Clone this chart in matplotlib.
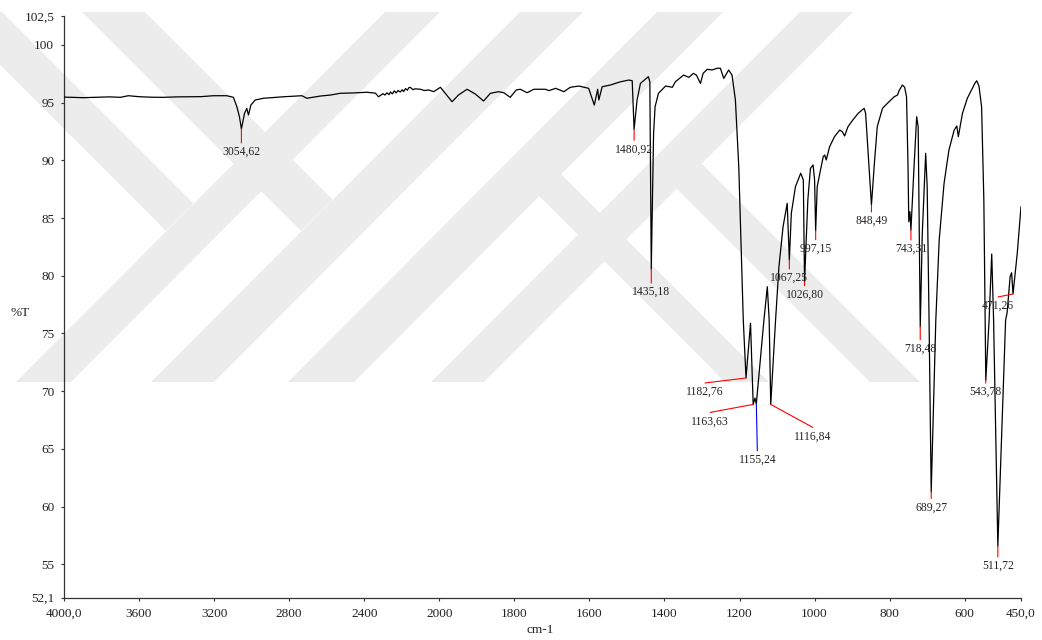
import matplotlib.pyplot as plt
import numpy as np
from matplotlib.patches import Polygon

# FT-IR spectrum, %T against wavenumber (cm-1)
WAVENUMBER = [
    4000, 3897, 3820, 3755, 3700, 3657, 3595, 3530, 3470, 3400, 3346, 3270, 3204, 3132,
    3097, 3079, 3065, 3054.62, 3038, 3026, 3017, 3004, 2981, 2937, 2880, 2830, 2732,
    2706, 2635, 2580, 2528, 2460, 2386, 2340, 2324, 2300, 2290, 2279, 2268, 2260, 2250,
    2240, 2230, 2220, 2208, 2198, 2190, 2180, 2170, 2162, 2155, 2140, 2130, 2101, 2080,
    2057, 2030, 1997, 1984, 1966, 1949, 1926, 1904, 1882,
    1864, 1842, 1828, 1811, 1795, 1784, 1766, 1748, 1717, 1708, 1690, 1668, 1651, 1628,
    1602, 1587, 1578, 1575, 1566, 1544, 1517, 1495, 1486, 1480.92, 1473, 1464, 1443,
    1439, 1435.18, 1429, 1425, 1416, 1397, 1379, 1371, 1349, 1335, 1323, 1315, 1304,
    1297, 1286, 1273, 1260, 1251, 1242, 1229, 1220, 1211, 1202, 1190, 1182.76, 1170.7,
    1163.63, 1159, 1155.24, 1135, 1126, 1121, 1116.84, 1104, 1095, 1084, 1073, 1067.25,
    1062, 1051, 1037, 1030, 1026.80, 1018, 1011, 1004, 1000, 997.15, 993, 986, 977, 973,
    969, 960, 947, 933, 926, 920, 911, 898, 884, 868, 864, 855, 848.49, 840, 833, 819,
    806, 788, 779, 775, 766, 760, 755, 751, 749, 746, 743.31, 735, 728, 724, 718.48, 713,
    704, 700, 695, 689.27, 677, 668, 655, 642, 628, 621, 617, 606, 593, 582, 577, 573,
    568, 562, 555, 549, 543.78, 535, 528, 523, 511.72, 491, 487, 479, 475, 471.26, 460,
    450,
]
TRANSMITTANCE = [
    95.48, 95.43, 95.47, 95.50, 95.46, 95.60, 95.51, 95.47, 95.46, 95.50, 95.51, 95.52,
    95.60, 95.60, 95.46, 94.65, 93.78, 92.72, 94.07, 94.50, 93.93, 94.79, 95.23, 95.38,
    95.45, 95.51, 95.60, 95.38, 95.57, 95.66, 95.81, 95.84, 95.90, 95.82, 95.51, 95.78,
    95.66, 95.85, 95.70, 95.92, 95.76, 96.02, 95.84, 96.05, 95.92, 96.12, 95.96, 96.22,
    96.08, 96.30, 96.33, 96.12, 96.20, 96.16, 96.05,
    96.10, 95.95, 96.33, 95.81, 95.08, 95.66, 96.16, 95.75, 95.14,
    95.81, 95.95, 95.86, 95.46, 96.10, 96.16, 95.86, 96.16, 96.16, 96.04, 96.24, 95.95,
    96.33, 96.44, 96.24, 94.79, 96.16, 95.23, 96.38, 96.53, 96.81, 96.96, 96.90, 92.69,
    95.23, 96.67, 97.25, 96.81, 80.58, 92.34, 94.65, 95.81, 96.44, 96.33, 96.81, 97.39,
    97.19, 97.54, 97.39, 96.67, 97.54, 97.89, 97.83, 97.98, 97.98, 97.10, 97.83, 97.39,
    95.23, 89.45, 76.16, 71.14, 75.88, 68.85, 69.40, 68.90, 76.15, 79.05, 76.15, 68.85,
    76.15, 80.78, 84.25, 86.28, 81.36, 85.41, 87.72, 88.88, 88.30, 79.48, 86.56, 89.31,
    89.60, 88.30, 83.90, 87.72, 88.88, 90.32, 90.46, 90.03, 91.18, 92.05, 92.63, 92.48,
    92.11, 92.92, 93.50, 94.07, 94.51, 94.07, 89.45, 86.13, 90.03, 92.92, 94.51, 94.94,
    95.51, 95.66, 96.03, 96.53, 96.33, 95.51, 89.45, 84.68, 85.55, 83.96, 89.45, 93.78,
    92.92, 75.58, 83.70, 90.61, 87.72, 76.16, 61.29, 76.16, 83.10, 88.01, 90.90, 92.63,
    92.97, 92.05, 94.07, 95.38, 96.10, 96.44, 96.67, 96.90, 96.44, 94.65, 86.56, 70.96,
    76.16, 81.88, 76.16, 56.58, 76.16, 76.80, 79.92, 80.26, 78.42, 81.94, 85.98,
]

# labelled bands: wavenumber, %T at the band minimum
PEAK_WN = [3054.62, 1480.92, 1435.18, 1182.76, 1163.63, 1155.24, 1116.84, 1067.25,
           1026.80, 997.15, 848.49, 743.31, 718.48, 689.27, 543.78, 511.72, 471.26]
PEAK_T = [92.72, 92.69, 80.58, 71.14, 68.85, 68.90, 68.85, 81.36,
          79.48, 83.90, 86.13, 83.96, 75.58, 61.29, 70.96, 56.58, 78.42]

# leader end offsets in pixels (right, down) and leader colour
LEADER = [(0, 14), (0, 11), (0, 14), (-41, 5), (-43, 8), (1, 47), (42, 23), (0, 9),
          (0, 4), (0, 9), (0, 7), (0, 10), (0, 13), (0, 7), (0, 3), (0, 11), (-15, 3)]
LEADER_COLOR = ["red"] * 5 + ["blue"] + ["red"] * 11

XTICKS = [4000, 3600, 3200, 2800, 2400, 2000, 1800, 1600, 1400, 1200, 1000, 800, 600, 450]
YTICKS = [52.1, 55, 60, 65, 70, 75, 80, 85, 90, 95, 100, 102.5]

W, H = 1042, 640
WM_COLOR = "#ececec"
# background emblem: 45-degree stripes, corners in pixels from the top-left
WM_STRIPES = [
    # "/" stripes, full height
    [(385, 12), (440, 12), (71, 382), (16, 382)],
    [(520, 12), (583, 12), (214, 382), (151, 382)],
    [(657, 12), (723, 12), (354, 382), (288, 382)],
    [(800, 12), (853, 12), (484, 382), (431, 382)],
    # "\" arms running into the first two stripes from above
    [(-53, 12), (2, 12), (193.5, 203.5), (166, 231)],
    [(82, 12), (145, 12), (332.5, 199.5), (301, 231)],
    # "\" arms leaving the last two stripes downwards
    [(539, 196), (561, 174), (769, 382), (725, 382)],
    [(676.5, 188.5), (701.5, 163.5), (920, 382), (870, 382)],
]


def fwd(x):
    x = np.asarray(x, dtype=float)
    return np.where(x >= 2000, x - 2000, 2 * (x - 2000))


def inv(u):
    u = np.asarray(u, dtype=float)
    return np.where(u >= 0, u + 2000, u / 2 + 2000)


def fmt(v):
    return f"{v:.1f}".replace(".", ",") if v in (4000, 450, 52.1, 102.5) else f"{v:g}"


plt.rcParams["font.family"] = ["Liberation Serif", "DejaVu Serif"]

fig = plt.figure(figsize=(W / 100, H / 100), dpi=100)
fig.patch.set_facecolor("white")
for pts in WM_STRIPES:
    fig.add_artist(Polygon([(x / W, 1 - y / H) for x, y in pts], closed=True,
                           facecolor=WM_COLOR, edgecolor="none", zorder=-5))

ax = fig.add_axes([64 / W, 1 - 597.7 / H, (1021 - 64) / W, (597.7 - 16.1) / H])
ax.patch.set_alpha(0)
ax.set_xscale("function", functions=(fwd, inv))
ax.plot(WAVENUMBER, TRANSMITTANCE, color="black", lw=0.9, zorder=3)
ax.set_xlim(4000, 450)
ax.set_ylim(52.1, 102.5)

for wn, t, (dx, dy), c in zip(PEAK_WN, PEAK_T, LEADER, LEADER_COLOR):
    ax.annotate("", xy=(wn, t), xytext=(dx, -dy), textcoords="offset pixels",
                arrowprops=dict(arrowstyle="-", color=c, lw=0.8, shrinkA=0, shrinkB=0),
                zorder=4)
    ax.annotate(f"{wn:.2f}".replace(".", ","), xy=(wn, t), xytext=(dx, -dy - 9),
                textcoords="offset pixels", ha="center", va="center", fontsize=8.4,
                color="#222222", zorder=5)

ax.set_xticks(XTICKS)
ax.set_xticklabels([fmt(v) for v in XTICKS])
ax.set_yticks(YTICKS)
ax.set_yticklabels([fmt(v) for v in YTICKS])
ax.tick_params(axis="both", labelsize=9.5, length=2.5, width=0.8, color="#333333",
               labelcolor="#222222")
ax.tick_params(axis="x", pad=5)
ax.tick_params(axis="y", pad=4.5)
ax.minorticks_off()
for side in ("top", "right"):
    ax.spines[side].set_visible(False)
for side in ("left", "bottom"):
    ax.spines[side].set_color("#333333")
    ax.spines[side].set_linewidth(0.9)

fig.text(20 / W, 1 - 313 / H, "%T", fontsize=9.5, ha="center", va="center", color="#222222")
fig.text(540 / W, 1 - 630 / H, "cm-1", fontsize=9.5, ha="center", va="center", color="#222222")

fig.savefig("out.png", dpi=100)
